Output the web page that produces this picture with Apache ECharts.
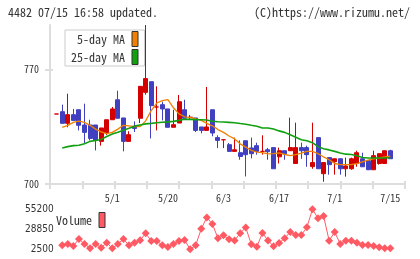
<!DOCTYPE html>
<html>
<head>
<meta charset="utf-8">
<script src="https://cdn.jsdelivr.net/npm/echarts@6/dist/echarts.min.js"></script>
<style>
html, body { margin: 0; padding: 0; background: #fff; }
#chart { width: 420px; height: 259px; }
</style>
</head>
<body>
<div id="chart"></div>
<script>
// trading days shown on the chart
const dates = [
  '4/16', '4/17', '4/20', '4/21', '4/22', '4/23', '4/24', '4/27', '4/28', '4/30',
  '5/1', '5/7', '5/8', '5/11', '5/12', '5/13', '5/14', '5/15', '5/18', '5/19',
  '5/20', '5/21', '5/22', '5/25', '5/26', '5/27', '5/28', '5/29', '6/1', '6/2',
  '6/3', '6/4', '6/5', '6/8', '6/9', '6/10', '6/11', '6/12', '6/15', '6/16',
  '6/17', '6/18', '6/19', '6/22', '6/23', '6/24', '6/25', '6/26', '6/29', '6/30',
  '7/1', '7/2', '7/3', '7/6', '7/7', '7/8', '7/9', '7/10', '7/13', '7/14',
  '7/15'
]

// [open, close, low, high]
const candles = [
  [742.7, 742.7, 742.7, 742.7], [744.1, 737.0, 737.0, 748.4], [737.0, 742.3, 734.6, 755.1],
  [742.3, 738.8, 738.8, 745.8], [745.3, 735.8, 732.7, 745.3], [736.0, 731.5, 725.0, 749.0],
  [736.0, 727.8, 726.6, 739.2], [736.0, 726.6, 720.5, 736.0], [726.0, 734.2, 723.4, 734.2],
  [731.1, 739.2, 729.9, 739.2], [739.2, 745.8, 739.2, 747.0], [751.4, 740.1, 740.1, 756.9],
  [740.3, 726.0, 719.9, 740.3], [726.0, 730.1, 726.0, 732.2], [735.2, 733.9, 731.7, 738.2],
  [740.1, 759.6, 737.2, 759.6], [755.9, 764.3, 754.5, 797.0], [762.4, 747.8, 727.8, 762.4],
  [747.0, 747.0, 732.7, 759.6], [748.4, 745.8, 738.8, 750.2], [745.8, 734.6, 734.6, 745.8],
  [734.6, 736.2, 734.6, 745.3], [737.2, 750.2, 737.2, 754.3], [745.3, 740.1, 740.1, 751.4],
  [740.7, 740.7, 739.2, 742.1], [740.3, 732.7, 731.7, 740.3], [734.8, 732.7, 730.9, 734.8],
  [732.7, 734.8, 732.7, 759.2], [745.3, 731.1, 729.1, 745.3], [728.3, 726.6, 721.9, 729.7],
  [727.0, 727.0, 721.9, 727.0], [724.0, 719.9, 719.9, 725.0], [719.9, 720.9, 719.9, 728.3],
  [719.1, 716.8, 714.8, 726.6], [726.4, 717.9, 704.6, 726.4], [722.0, 718.5, 715.6, 728.3],
  [723.4, 719.9, 717.9, 725.2], [719.9, 719.9, 717.9, 729.7], [720.9, 719.7, 714.8, 722.0],
  [722.2, 709.3, 709.3, 722.2], [716.6, 720.3, 712.5, 722.2], [720.3, 718.5, 714.8, 720.3],
  [720.3, 722.2, 720.3, 740.5], [712.5, 722.2, 712.5, 737.4], [722.2, 720.3, 715.4, 725.2],
  [722.2, 717.9, 710.5, 723.4], [710.6, 713.1, 709.3, 737.4], [728.3, 709.3, 709.3, 728.3],
  [706.3, 713.1, 701.4, 713.1], [716.1, 711.8, 705.7, 716.1], [713.6, 715.4, 705.7, 715.4],
  [715.4, 709.3, 705.7, 715.4], [709.3, 711.0, 704.5, 716.1], [709.3, 715.4, 708.7, 716.1],
  [712.5, 719.1, 710.5, 720.3], [715.4, 710.5, 710.5, 719.1], [714.2, 708.7, 708.7, 714.2],
  [708.7, 717.3, 708.7, 720.3], [712.5, 718.5, 711.8, 718.5], [712.5, 720.3, 712.5, 720.3],
  [720.3, 715.4, 715.4, 720.9]
]

const ma5 = [
  '-', 734.6, 735.8, 737.6, 738.4, 737.6, 735.8, 733.5, 731.8, 730.8,
  731.5, 733.5, 735.8, 735.4, 735.0, 735.0, 738.5, 744.8, 749.4, 750.9,
  751.5, 746.5, 742.8, 741.0, 740.5, 739.8, 738.8, 737.0, 735.5, 733.2,
  731.5, 729.3, 727.5, 724.5, 722.5, 720.5, 719.5, 719.2, 718.4, 718.5,
  719.0, 718.0, 717.3, 717.9, 718.8, 719.9, 719.9, 718.5, 716.5, 714.8,
  712.5, 711.8, 711.8, 711.8, 712.4, 713.5, 714.5, 715.3, 716.0, 716.5,
  717.0
]

const ma25 = [
  '-', 722.0, 722.8, 723.4, 723.6, 724.5, 726.0, 726.5, 727.2, 729.0,
  730.5, 731.6, 732.8, 734.0, 735.3, 736.0, 736.7, 737.0, 737.4, 737.7,
  737.9, 738.2, 738.8, 739.5, 739.4, 739.3, 739.2, 739.0, 738.3, 738.0,
  737.8, 737.6, 737.4, 736.9, 736.5, 735.8, 735.2, 734.2, 734.2, 733.5,
  732.4, 731.5, 730.0, 728.5, 727.0, 726.4, 725.2, 722.8, 721.5, 720.8,
  719.9, 718.9, 718.2, 718.0, 717.2, 716.2, 715.9, 715.9, 715.9, 715.9,
  716.0
]

const volumes = [
  '-', 7770, 9480, 6850, 16070, 9480, 3820, 9480, 4610, 11200,
  3820, 9480, 16070, 7770, 11200, 14360, 23580, 13440, 13440, 7770,
  5530, 9480, 13440, 14770, 2500, 7770, 29510, 44400, 35830, 16990,
  20950, 15800, 14230, 23580, 31220, 9220, 5930, 23980, 14230, 6450,
  10800, 16990, 25290, 21340, 21340, 31490, 55200, 43340, 46370, 13830,
  25290, 9480, 13830, 13830, 11200, 8170, 8170, 6850, 5140, 3820,
  3820
]

const priceTicks = [700, 770]
const volumeTicks = [2500, 28850, 55200]
const labelEvery = 10

const FONT = "'Noto Sans Mono CJK JP', 'DejaVu Sans Mono', monospace"
const NARROW = "'Liberation Sans Narrow', 'DejaVu Sans Condensed', sans-serif"
const RED = '#d40000'
const BLUE = '#4040c0'
const ORANGE = '#f08000'
const GREEN = '#10a010'
const PINK = '#ff5a64'
const GRID_LINE = '#dddddd'

const chart = echarts.init(document.getElementById('chart'), null, { renderer: 'canvas' })

chart.setOption({
  animation: false,
  textStyle: { fontFamily: FONT },
  graphic: [
    {
      type: 'text', left: 8, top: 6,
      style: { text: '4482 07/15 16:58 updated.', font: '12px ' + FONT, fill: '#333' }
    },
    {
      type: 'text', right: 10, top: 6,
      style: { text: '(C)https://www.rizumu.net/', font: '12px ' + FONT, fill: '#333' }
    }
  ],
  legend: [
    {
      data: ['5-day MA', '25-day MA'],
      orient: 'vertical',
      left: 65, top: 30,
      align: 'right',
      icon: 'rect',
      itemWidth: 6, itemHeight: 15,
      itemGap: 2,
      padding: [1, 6, 1, 6],
      backgroundColor: '#fff',
      borderColor: '#cccccc',
      borderWidth: 1,
      itemStyle: { borderColor: '#333', borderWidth: 1 },
      textStyle: { fontFamily: FONT, fontSize: 12, color: '#333', padding: [0, 2, 0, 0] }
    },
    {
      data: ['Volume'],
      left: 56, top: 212,
      align: 'right',
      icon: 'rect',
      itemWidth: 6, itemHeight: 15,
      padding: 0,
      itemStyle: { borderColor: '#333', borderWidth: 1 },
      textStyle: { fontFamily: FONT, fontSize: 12, color: '#333', padding: [0, 2, 0, 0] }
    }
  ],
  grid: [
    // frame with axes and ticks
    { left: 50, top: 25, width: 355, height: 159 },
    // candles
    { left: 56.7, top: 25, width: 333.6, height: 159 },
    // volume
    { left: 56.7, top: 209.3, width: 333.6, height: 40 }
  ],
  xAxis: [
    {
      gridIndex: 0, type: 'value', min: 0, max: 11, interval: 1,
      axisLine: { lineStyle: { color: GRID_LINE, width: 2 } },
      axisTick: { length: 5, lineStyle: { color: GRID_LINE, width: 2 } },
      axisLabel: { show: false },
      splitLine: { show: false }
    },
    {
      gridIndex: 0, type: 'value', min: 0, max: 11, interval: 1, position: 'bottom',
      axisLine: { show: false },
      axisTick: { inside: true, length: 3, lineStyle: { color: GRID_LINE, width: 2 } },
      axisLabel: { show: false },
      splitLine: { show: false }
    },
    {
      gridIndex: 1, type: 'category', data: dates, boundaryGap: false,
      axisLine: { show: false },
      axisTick: { show: false },
      axisLabel: {
        interval: (i) => i > 0 && i % labelEvery === 0,
        fontSize: 10, color: '#333', margin: 9
      },
      splitLine: { show: false }
    },
    {
      gridIndex: 2, type: 'category', data: dates, boundaryGap: false,
      show: false
    }
  ],
  yAxis: [
    {
      gridIndex: 0, type: 'value', min: 700, max: 797,
      axisLine: { show: true, lineStyle: { color: GRID_LINE, width: 2 } },
      axisTick: { show: true, length: 5, customValues: priceTicks, lineStyle: { color: GRID_LINE, width: 2 } },
      axisLabel: { customValues: priceTicks, fontSize: 10, color: '#333', margin: 11 },
      splitLine: { show: false }
    },
    {
      gridIndex: 0, type: 'value', min: 700, max: 797,
      axisLine: { show: false },
      axisTick: { show: true, inside: true, length: 3, customValues: priceTicks, lineStyle: { color: GRID_LINE, width: 2 } },
      axisLabel: { show: false },
      splitLine: { show: false },
      position: 'left'
    },
    {
      gridIndex: 1, type: 'value', min: 700, max: 797, show: false,
      splitLine: { show: false }
    },
    {
      gridIndex: 2, type: 'value', min: 2500, max: 55200,
      axisLine: { show: false },
      axisTick: { show: false },
      axisLabel: {
        customValues: volumeTicks,
        formatter: (v) => String(v),
        fontFamily: NARROW, fontSize: 10, color: '#333', margin: 3
      },
      splitLine: { show: false }
    }
  ],
  series: [
    {
      type: 'candlestick',
      xAxisIndex: 2, yAxisIndex: 2,
      data: candles,
      barWidth: 4.5,
      itemStyle: {
        color: RED, color0: BLUE,
        borderColor: RED, borderColor0: BLUE, borderColorDoji: RED,
        borderWidth: 1
      }
    },
    {
      name: '5-day MA', type: 'line',
      xAxisIndex: 2, yAxisIndex: 2,
      data: ma5, showSymbol: false, symbol: 'none',
      itemStyle: { color: ORANGE },
      lineStyle: { color: ORANGE, width: 1.3 }
    },
    {
      name: '25-day MA', type: 'line',
      xAxisIndex: 2, yAxisIndex: 2,
      data: ma25, showSymbol: false, symbol: 'none',
      itemStyle: { color: GREEN },
      lineStyle: { color: GREEN, width: 1.6 }
    },
    {
      name: 'Volume', type: 'line',
      xAxisIndex: 3, yAxisIndex: 3,
      data: volumes,
      symbol: 'diamond', symbolSize: 8, showAllSymbol: true,
      itemStyle: { color: PINK },
      lineStyle: { color: PINK, width: 1 }
    }
  ]
})
</script>
</body>
</html>
